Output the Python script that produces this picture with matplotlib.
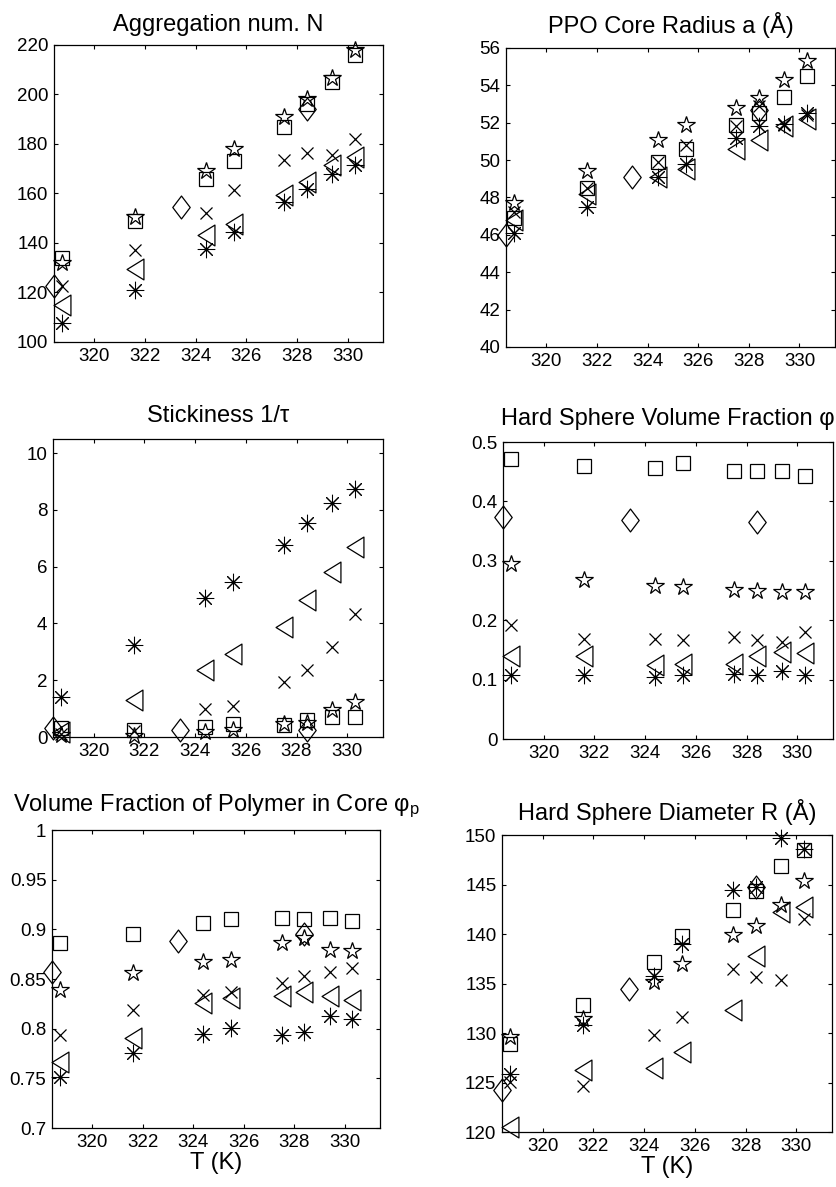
"""
Six-panel micelle fit parameters vs temperature (MATLAB style scan)
"""

import matplotlib
matplotlib.use('Agg')
import matplotlib.pyplot as plt
from matplotlib.path import Path
from matplotlib.ticker import FormatStrFormatter, FixedLocator

plt.rcParams['font.family'] = ['Liberation Sans', 'DejaVu Sans']
plt.rcParams['mathtext.fontset'] = 'custom'
plt.rcParams['mathtext.rm'] = 'Liberation Sans'
plt.rcParams['mathtext.it'] = 'Liberation Sans'

# temperatures (K)
T = [318.7, 321.6, 324.4, 325.5, 327.5, 328.4, 329.4, 330.3]
T_dia = [318.4, 323.4, 328.4]

# Aggregation number N
agg_sq = [134, 149, 166, 173, 187, 196, 205, 216]
agg_star = [132, 150.5, 169, 178, 191, 198, 206.5, 218]
agg_x = [122.6, 137.3, 152.3, 161.3, 173.7, 176.4, 175.5, 182.2]
agg_tri = [114.8, 129.6, 143.1, 147.8, 159.3, 164.7, 171.4, 174.8]
agg_ast = [107.7, 121.2, 137.7, 144.5, 156.6, 161.7, 168, 171.4]
agg_dia = [122.5, 154.6, 194.3]

# PPO core radius a
rad_sq = [46.9, 48.5, 49.9, 50.6, 51.9, 52.5, 53.4, 54.5]
rad_star = [47.7, 49.4, 51.1, 51.9, 52.8, 53.3, 54.3, 55.3]
rad_x = [47.2, 48.5, 49.9, 50.8, 51.8, 52.9, 51.9, 52.4]
rad_tri = [46.8, 48.2, 49.1, 49.5, 50.6, 51.1, 51.8, 52.2]
rad_ast = [46.1, 47.5, 49.1, 49.8, 51.2, 51.8, 51.95, 52.5]
rad_dia = [46.0, 49.1, 52.7]

# stickiness 1/tau
stk_sq = [0.3, 0.24, 0.35, 0.47, 0.41, 0.59, 0.7, 0.7]
stk_star = [0.06, 0.03, 0.18, 0.24, 0.47, 0.5, 0.94, 1.24]
stk_x = [0.1, 0.2, 1.0, 1.1, 1.94, 2.35, 3.18, 4.32]
stk_tri = [0.18, 1.29, 2.35, 2.94, 3.88, 4.82, 5.82, 6.71]
stk_ast = [1.41, 3.24, 4.88, 5.47, 6.76, 7.53, 8.24, 8.74]
stk_dia = [0.3, 0.24, 0.24]

# hard sphere volume fraction phi
hsf_sq = [0.471, 0.460, 0.456, 0.464, 0.452, 0.451, 0.452, 0.443]
hsf_star = [0.295, 0.267, 0.258, 0.256, 0.251, 0.249, 0.247, 0.247]
hsf_x = [0.192, 0.168, 0.168, 0.166, 0.172, 0.166, 0.164, 0.181]
hsf_tri = [0.139, 0.139, 0.125, 0.127, 0.127, 0.139, 0.146, 0.145]
hsf_ast = [0.108, 0.107, 0.105, 0.107, 0.110, 0.108, 0.115, 0.108]
hsf_dia = [0.374, 0.369, 0.365]

# volume fraction of polymer in core phi_p
vfp_sq = [0.886, 0.895, 0.906, 0.910, 0.911, 0.910, 0.911, 0.908]
vfp_star = [0.839, 0.856, 0.867, 0.869, 0.886, 0.891, 0.879, 0.878]
vfp_x = [0.794, 0.819, 0.834, 0.837, 0.846, 0.853, 0.857, 0.861]
vfp_tri = [0.766, 0.791, 0.826, 0.831, 0.833, 0.837, 0.833, 0.829]
vfp_ast = [0.751, 0.776, 0.795, 0.801, 0.794, 0.797, 0.813, 0.810]
vfp_dia = [0.857, 0.888, 0.895]

# hard sphere diameter R
hsd_sq = [128.9, 132.8, 137.2, 139.8, 142.4, 144.3, 146.9, 148.5]
hsd_star = [129.6, 131.4, 135.2, 137.0, 139.9, 140.8, 142.9, 145.4]
hsd_x = [125.1, 124.7, 129.8, 131.6, 136.5, 135.7, 135.4, 141.5]
hsd_tri = [120.5, 126.3, 126.5, 128.1, 132.3, 137.8, 142.2, 142.7]
hsd_ast = [125.9, 130.8, 135.8, 139.0, 144.4, 144.8, 149.7, 148.6]
hsd_dia = [124.2, 134.4, 144.8]

xticks = [320, 322, 324, 326, 328, 330]

# MATLAB-like marker shapes
tri_path = Path([(-0.81, 0), (0.81, 1), (0.81, -1), (-0.81, 0)], closed=True)
dia_path = Path([(0, 1), (0.76, 0), (0, -1), (-0.76, 0), (0, 1)], closed=True)

styles = [
    dict(marker='s', ms=10, mew=0.9),
    dict(marker='*', ms=13, mew=0.9),
    dict(marker='x', ms=9, mew=0.9),
    dict(marker=tri_path, ms=15, mew=0.9),
    dict(marker=(8, 2, 0), ms=12.5, mew=0.75),
]
dia_style = dict(marker=dia_path, ms=16.5, mew=0.9)

panels = [
    # title, series, diamond, ylim, yticks, axes rect, title pad, xlabel
    ('Aggregation num. N', [agg_sq, agg_star, agg_x, agg_tri, agg_ast], agg_dia,
     (100, 220), [100, 120, 140, 160, 180, 200, 220],
     [0.0645, 0.7119, 0.393, 0.2502], 10, False),
    ('PPO Core Radius a (Å)', [rad_sq, rad_star, rad_x, rad_tri, rad_ast], rad_dia,
     (40, 56), [40, 42, 44, 46, 48, 50, 52, 54, 56],
     [0.6045, 0.7077, 0.393, 0.2519], 11, False),
    ('Stickiness 1/τ', [stk_sq, stk_star, stk_x, stk_tri, stk_ast], stk_dia,
     (0, 10.5), [0, 2, 4, 6, 8, 10],
     [0.0633, 0.3791, 0.394, 0.2511], 12, False),
    ('Hard Sphere Volume Fraction φ', [hsf_sq, hsf_star, hsf_x, hsf_tri, hsf_ast], hsf_dia,
     (0, 0.5), [0, 0.1, 0.2, 0.3, 0.4, 0.5],
     [0.601, 0.3774, 0.394, 0.2502], 12, False),
    ('Volume Fraction of Polymer in Core $φ_{\\mathrm{p}}$',
     [vfp_sq, vfp_star, vfp_x, vfp_tri, vfp_ast], vfp_dia,
     (0.7, 1.0), [0.7, 0.75, 0.8, 0.85, 0.9, 0.95, 1.0],
     [0.0621, 0.0497, 0.392, 0.251], 14, True),
    ('Hard Sphere Diameter R (Å)', [hsd_sq, hsd_star, hsd_x, hsd_tri, hsd_ast], hsd_dia,
     (120, 150), [120, 125, 130, 135, 140, 145, 150],
     [0.5998, 0.0463, 0.394, 0.2502], 11, True),
]

fig = plt.figure(figsize=(8.37, 11.87), dpi=100)

for title, series, dia, ylim, yticks, rect, pad, xlab in panels:
    ax = fig.add_axes(rect)
    for vals, st in zip(series, styles):
        ax.plot(T, vals, linestyle='none', mfc='none', mec='k',
                clip_on=False, **st)
    ax.plot(T_dia, dia, linestyle='none', mfc='none', mec='k',
            clip_on=False, **dia_style)

    ax.set_xlim(318.4, 331.4)
    ax.set_ylim(*ylim)
    ax.xaxis.set_major_locator(FixedLocator(xticks))
    ax.yaxis.set_major_locator(FixedLocator(yticks))
    ax.yaxis.set_major_formatter(FormatStrFormatter('%g'))
    ax.tick_params(direction='in', top=True, right=True, length=3, width=0.8,
                   labelsize=13.5, pad=4)
    for sp in ax.spines.values():
        sp.set_linewidth(0.9)
    ax.set_title(title, fontsize=17, pad=pad)
    if xlab:
        ax.set_xlabel('T (K)', fontsize=17, labelpad=1)

fig.savefig('out.png', dpi=100)
